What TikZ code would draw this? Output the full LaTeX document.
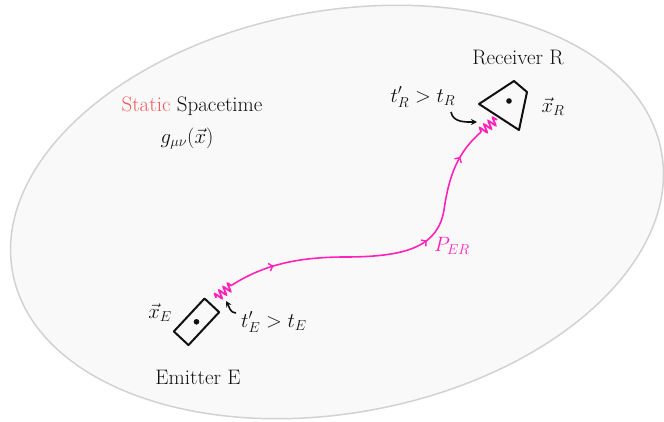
\documentclass[tikz,border=0pt]{standalone}
\usepackage{fontspec}
\usetikzlibrary{decorations.pathmorphing,decorations.markings,arrows.meta}
\definecolor{ink}{HTML}{111111}
\definecolor{beam}{HTML}{FF22B8}
\definecolor{redtxt}{HTML}{F25A5A}
\definecolor{bgfill}{HTML}{F9F9F9}
\definecolor{rim}{HTML}{D2D2D2}
\begin{document}
\begin{tikzpicture}[x=1pt,y=-1pt,
  lbl/.style={text=ink, font=\fontsize{21}{24}\selectfont, inner sep=0pt},
  device/.style={draw=ink, line width=2pt, line join=round},
  wig/.style={draw=beam, line width=1.8pt, decorate,
    decoration={snake, segment length=5.5pt, amplitude=4pt}},
  beampath/.style={draw=beam, line width=1.6pt,
    postaction={decorate, decoration={markings,
      mark=at position 0.14 with {\arrow[beam, line width=1.4pt]{Straight Barb[length=3.5pt,width=8pt]}},
      mark=at position 0.62 with {\arrow[beam, line width=1.4pt]{Straight Barb[length=3.5pt,width=8pt]}},
      mark=at position 0.90 with {\arrow[beam, line width=1.4pt]{Straight Barb[length=3.5pt,width=8pt]}}}}},
  pointer/.style={draw=ink, line width=1.6pt, -{Stealth[length=6pt,width=6pt]}}
]
\useasboundingbox (0,0) rectangle (664,421);
% spacetime region
\draw[rim, line width=1.5pt, fill=bgfill, rotate around={10.6:(337,212)}]
  (337,212) ellipse [x radius=330pt, y radius=201pt];

% emitter
\node[device, minimum width=45pt, minimum height=20pt, rotate=47, inner sep=0pt] (emitter) at (196.5,321.8) {};
\fill[ink] (emitter.center) circle (2.8pt);

% receiver
\coordinate (r1) at (479,104);
\coordinate (r2) at (514,81);
\coordinate (r3) at (527,92);
\coordinate (r4) at (519,130);
\draw[device] (r1) -- (r2) -- (r3) -- (r4) -- cycle;
\fill[ink] (509,101) circle (2.8pt);

% labels
\node[lbl] (static) at (192,106) {{\color{redtxt}Static} Spacetime};
\node[lbl] (metric) at (187,139) {$g_{\mu\nu}(\vec{x})$};
\node[lbl] (reclbl) at (518,57) {Receiver R};
\node[lbl] (xR) at (553,107) {$\vec{x}_R$};
\node[lbl] (tR) at (423,97) {$t'_R > t_R$};
\node[lbl] (xE) at (160,313) {$\vec{x}_E$};
\node[lbl] (tE) at (274,322) {$t'_E > t_E$};
\node[lbl] (emlbl) at (198,377) {Emitter E};
\node[lbl, text=beam] (PER) at (452,246) {$P_{ER}$};

% beam
\coordinate (Es) at (216,298);
\coordinate (Ew) at (232,285);
\coordinate (Rw) at (481,132);
\coordinate (Rs) at (497,119);
\coordinate (Em) at (345,257);
\coordinate (Rm) at (444,210);
\path[wig] (Es) -- (Ew);
\path[wig] (Rw) -- (Rs);
\path[beampath] (Ew) .. controls (262,266) and (295,257) .. (Em)
  .. controls (410,257) and (438,245) .. (Rm)
  .. controls (449,175) and (458,152) .. (Rw);

% pointers
\coordinate (pR0) at (451,112);
\coordinate (pR1) at (477,122);
\draw[pointer] (pR0) to[out=-80, in=180] (pR1);
\coordinate (pE0) at (236,313);
\coordinate (pE1) at (226,301);
\draw[pointer] (pE0) to[out=180, in=-60] (pE1);
\end{tikzpicture}
\end{document}
